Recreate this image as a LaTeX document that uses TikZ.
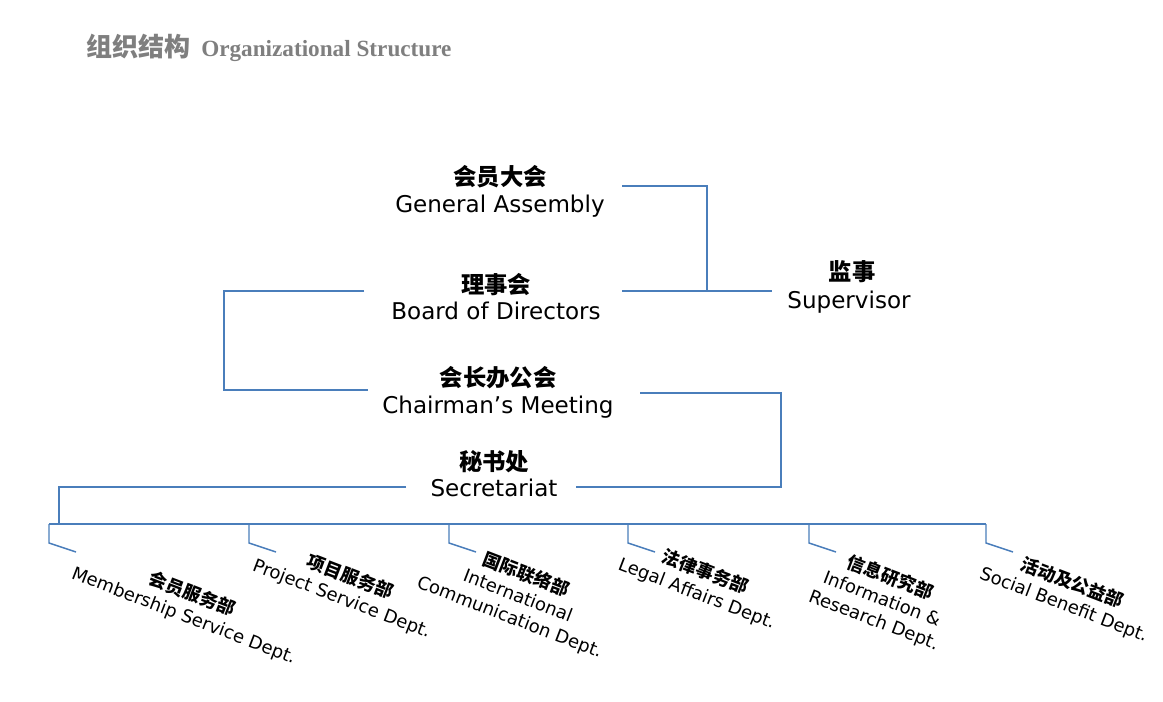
\documentclass[tikz,border=0pt]{standalone}
\usepackage{fontspec}
\setmainfont{DejaVu Sans}
\newfontfamily\zh{Noto Sans CJK SC}
\newfontfamily\ttl{Liberation Serif}
\definecolor{lineblue}{HTML}{4A7EBB}
\definecolor{titlegray}{HTML}{7F7F7F}
\begin{document}
\begin{tikzpicture}[x=0.75pt,y=-0.75pt,
  thickline/.style={draw=lineblue, line width=1.9pt},
  thinline/.style={draw=lineblue, line width=1.1pt},
  zhm/.style={font=\zh\bfseries\fontsize{17.5}{17.5}\selectfont, inner sep=0pt, anchor=base},
  enm/.style={font=\fontsize{17.3}{17.3}\selectfont, inner sep=0pt, anchor=base},
  dept/.style={align=center, inner sep=0pt, rotate=-21, font=\fontsize{13.5}{17}\selectfont},
  ttlzh/.style={font=\zh\bfseries\fontsize{19.5}{20}\selectfont, text=titlegray, inner sep=0pt, anchor=base west},
  ttlen/.style={font=\ttl\bfseries\fontsize{17.4}{20}\selectfont, text=titlegray, inner sep=0pt, anchor=base west}
]
\useasboundingbox (0,0) rectangle (1163,702);
\fill[white] (0,0) rectangle (1163,702);

% title
\node[ttlzh] (tzh) at (86,57) {组织结构};
\node[ttlen] (ten) at (201,57) {Organizational Structure};

% main bodies
\node[zhm] (gazh) at (500,186) {会员大会};
\node[enm] (gaen) at (500,213) {General Assembly};
\node[zhm] (bdzh) at (496,293) {理事会};
\node[enm] (bden) at (496,319) {Board of Directors};
\node[zhm] (cmzh) at (498,386) {会长办公会};
\node[enm] (cmen) at (498,413) {Chairman’s Meeting};
\node[zhm] (sczh) at (494,470) {秘书处};
\node[enm] (scen) at (494,496) {Secretariat};
\node[zhm] (spzh) at (852,281) {监事};
\node[enm] (spen) at (849,308) {Supervisor};

% connector ends
\coordinate (ga-r) at (622,186);
\coordinate (bd-r) at (622,291);
\coordinate (sp-l) at (772,291);
\coordinate (bd-l) at (364,291);
\coordinate (cm-l) at (368,390);
\coordinate (cm-r) at (640,393);
\coordinate (sc-r) at (576,487);
\coordinate (sc-l) at (406,487);
\coordinate (bus-j) at (59,524);
\coordinate (bus-w) at (49,524);
\coordinate (bus-e) at (986,524);

\draw[thickline] (ga-r) -| (707,291);
\draw[thickline] (bd-r) -- (sp-l);
\draw[thickline] (bd-l) -- ++(-140,0) |- (cm-l);
\draw[thickline] (cm-r) -- ++(141,0) |- (sc-r);
\draw[thickline] (sc-l) -| (bus-j);
\draw[thinline] (bus-w) -- (bus-e);

% department ticks
\foreach \x [count=\i] in {49,249,449,628,809,986}{
  \coordinate (t\i) at (\x,524);
  \draw[thinline] (t\i) -- ++(0,19) -- ++(27,9);
}

% departments
\node[dept] (d1) at (188,605) {{\zh\bfseries 会员服务部}\\Membership Service Dept.};
\node[dept] (d2) at (346,588) {{\zh\bfseries 项目服务部}\\Project Service Dept.};
\node[dept] (d3) at (518,596) {{\zh\bfseries 国际联络部}\\International\\Communication Dept.};
\node[dept] (d4) at (701,583) {{\zh\bfseries 法律事务部}\\Legal Affairs Dept.};
\node[dept] (d5) at (882,599) {{\zh\bfseries 信息研究部}\\Information \&\\Research Dept.};
\node[dept] (d6) at (1068,594) {{\zh\bfseries 活动及公益部}\\Social Benefit Dept.};
\end{tikzpicture}
\end{document}
